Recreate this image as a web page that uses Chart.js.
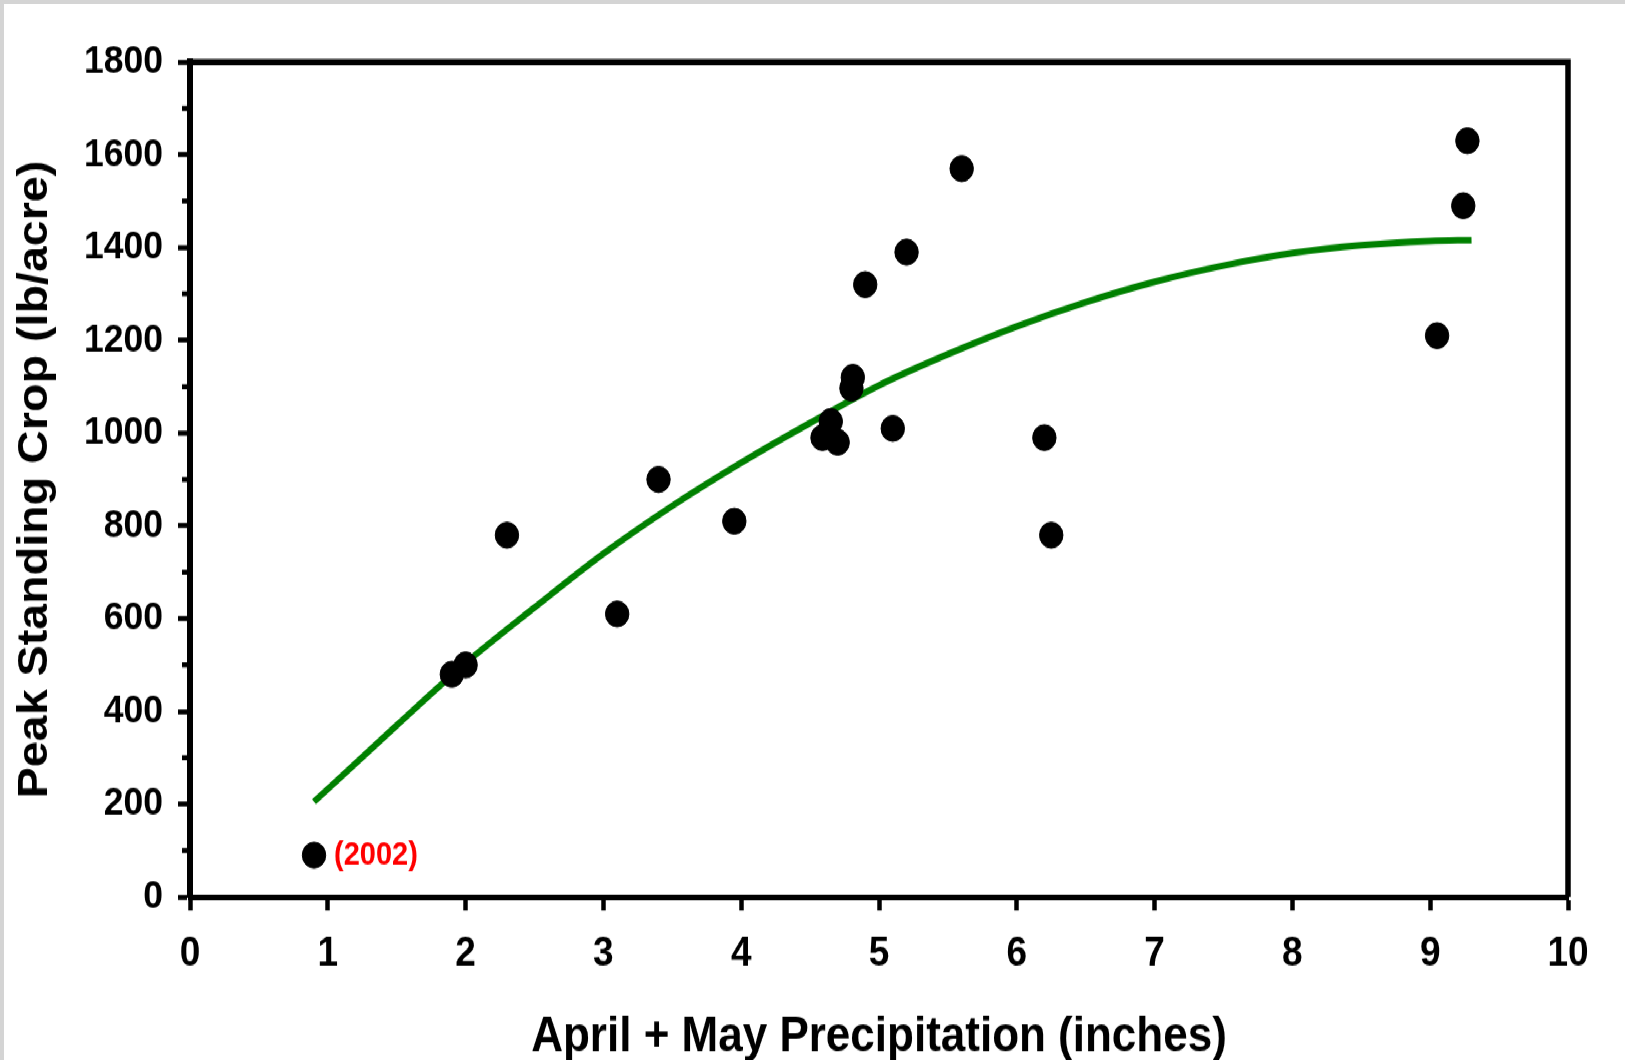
<!DOCTYPE html>
<html>
<head>
<meta charset="utf-8">
<script src="https://cdn.jsdelivr.net/npm/chart.js@4.4.1/dist/chart.umd.min.js"></script>
<style>
  html, body { margin: 0; padding: 0; }
  body { width: 1625px; height: 1060px; overflow: hidden; background: #d4d4d4; position: relative; }
  /* the original picture is stretched vertically, so the chart is drawn short and scaled up */
  #wrap { position: absolute; left: 4px; top: 4px; width: 1621px; height: 951px; background: #fff;
          transform: scaleY(1.1104); transform-origin: 0 0; }
</style>
</head>
<body>
<div id="wrap"><canvas id="chart"></canvas></div>
<script>
// April + May precipitation (inches) vs peak standing crop (lb/acre)
const precip = [0.9, 1.9, 2.0, 2.3, 3.1, 3.4, 3.95, 4.59, 4.65, 4.7, 4.8, 4.81, 4.9, 5.1, 5.2, 5.6, 6.2, 6.25, 9.05, 9.24, 9.27];
const standingCrop = [90, 480, 500, 780, 610, 900, 810, 990, 1025, 980, 1097, 1120, 1320, 1010, 1390, 1570, 990, 780, 1210, 1490, 1630];

// fitted curve
const trendPrecip = [0.9, 1.5, 2.0, 2.5, 3.0, 3.5, 4.0, 4.5, 5.0, 5.5, 6.0, 6.5, 7.0, 7.5, 8.0, 8.5, 9.0, 9.3];
const trendCrop = [205, 370, 504, 624, 740, 843, 936, 1022, 1103, 1170, 1230, 1282, 1326, 1361, 1388, 1405, 1414, 1416];

const noteIndex = 0;
const noteText = '(2002)';

const FONT = "'Liberation Sans', Arial, Helvetica, sans-serif";

const framePlugin = {
    id: 'frame',
    afterDraw(chart) {
        const { ctx, chartArea: a } = chart;
        ctx.save();
        ctx.strokeStyle = '#000';
        ctx.lineJoin = 'miter';

        // top and right edges of the box
        ctx.lineWidth = 5.5;
        ctx.beginPath();
        ctx.moveTo(a.left, a.top);
        ctx.lineTo(a.right, a.top);
        ctx.lineTo(a.right, a.bottom);
        ctx.stroke();

        // minor ticks on the y axis
        const yScale = chart.scales.y;
        ctx.lineWidth = 4.5;
        ctx.beginPath();
        for (let v = 100; v < 1800; v += 200) {
            const py = yScale.getPixelForValue(v);
            ctx.moveTo(a.left - 8, py);
            ctx.lineTo(a.left, py);
        }
        ctx.stroke();

        // year note beside the driest point
        const pt = chart.getDatasetMeta(0).data[noteIndex];
        ctx.fillStyle = '#ff0000';
        ctx.font = 'bold 29px ' + FONT;
        ctx.textAlign = 'left';
        ctx.textBaseline = 'middle';
        ctx.fillText(noteText, pt.x + 20, pt.y);
        ctx.restore();
    }
};

const ctx = document.getElementById('chart').getContext('2d');

new Chart(ctx, {
    type: 'scatter',
    data: {
        datasets: [{
            label: 'Years',
            data: precip.map((x, i) => ({ x: x, y: standingCrop[i] })),
            backgroundColor: '#000',
            borderColor: '#000',
            pointRadius: 11.7,
            pointHoverRadius: 11.7,
            order: 0
        }, {
            label: 'Fit',
            data: trendPrecip.map((x, i) => ({ x: x, y: trendCrop[i] })),
            showLine: true,
            borderColor: '#008000',
            borderWidth: 6,
            pointRadius: 0,
            cubicInterpolationMode: 'monotone',
            fill: false,
            order: 1
        }]
    },
    options: {
        responsive: true,
        maintainAspectRatio: false,
        animation: false,
        layout: {
            padding: { top: 52.2, right: 57, left: 0, bottom: 0 }
        },
        plugins: {
            legend: { display: false },
            tooltip: { enabled: false }
        },
        scales: {
            x: {
                type: 'linear',
                min: 0,
                max: 10,
                afterFit: (scale) => { scale.height = 146.8; },
                border: { display: true, color: '#000', width: 5 },
                grid: {
                    drawOnChartArea: false,
                    drawTicks: true,
                    tickLength: 12,
                    tickWidth: 4.5,
                    tickColor: '#000'
                },
                ticks: {
                    stepSize: 1,
                    color: '#000',
                    padding: 17,
                    font: { family: FONT, size: 37, weight: 'bold' }
                },
                title: {
                    display: true,
                    text: 'April + May Precipitation (inches)',
                    color: '#000',
                    padding: { top: 0, bottom: -2 },
                    font: { family: FONT, size: 44, weight: 'bold', lineHeight: 1 }
                }
            },
            y: {
                min: 0,
                max: 1800,
                afterFit: (scale) => { scale.width = 186; },
                border: { display: true, color: '#000', width: 6 },
                grid: {
                    drawOnChartArea: false,
                    drawTicks: true,
                    tickLength: 12,
                    tickWidth: 4.5,
                    tickColor: '#000'
                },
                ticks: {
                    stepSize: 200,
                    color: '#000',
                    padding: 15,
                    callback: (value) => String(value),
                    font: { family: FONT, size: 35.5, weight: 'bold' }
                },
                title: {
                    display: true,
                    text: 'Peak Standing Crop (lb/acre)',
                    color: '#000',
                    padding: { top: 10, bottom: 0 },
                    font: { family: FONT, size: 42, weight: 'bold', lineHeight: 1 }
                }
            }
        }
    },
    plugins: [framePlugin]
});
</script>
</body>
</html>
